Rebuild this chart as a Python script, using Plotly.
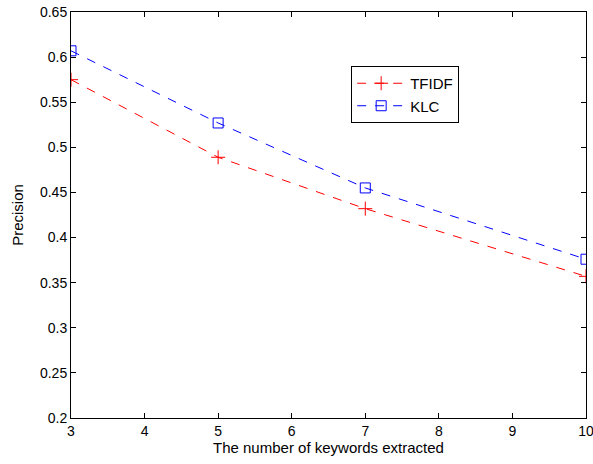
import plotly.graph_objects as go

keywords = [3, 5, 7, 10]
tfidf = [0.575, 0.489, 0.432, 0.357]
klc = [0.607, 0.527, 0.455, 0.376]

fig = go.Figure()

fig.add_trace(go.Scatter(
    x=keywords, y=tfidf,
    mode='lines+markers',
    name='TFIDF',
    line=dict(color='red', width=1, dash='dash'),
    marker=dict(symbol='cross-thin', size=10, line=dict(color='red', width=1))
))

fig.add_trace(go.Scatter(
    x=keywords, y=klc,
    mode='lines+markers',
    name='KLC',
    line=dict(color='blue', width=1, dash='dash'),
    marker=dict(symbol='square-open', size=10, color='blue', line=dict(width=1))
))

axis_style = dict(
    showline=True, linecolor='black', linewidth=1,
    mirror='ticks', ticks='inside', ticklen=5, tickcolor='black',
    showgrid=False, zeroline=False, automargin=False,
    ticklabeloverflow='allow',
    tickfont=dict(size=14, color='black'),
)

fig.update_layout(
    width=593, height=464,
    margin=dict(l=71, r=7, t=12, b=46),
    paper_bgcolor='white', plot_bgcolor='white',
    font=dict(family='Liberation Sans, Arial, sans-serif', size=14, color='black'),
    showlegend=True,
    legend=dict(
        x=0.544, y=0.867, xanchor='left', yanchor='top',
        bordercolor='black', borderwidth=1, bgcolor='white',
        font=dict(size=15), itemwidth=48,
    ),
)
fig.update_xaxes(range=[3, 10], dtick=1,
                 title=dict(text='The number of keywords extracted', font=dict(size=15), standoff=2),
                 **axis_style)
fig.update_yaxes(range=[0.2, 0.65], dtick=0.05, tickformat='.2~f',
                 title=dict(text='Precision', font=dict(size=15), standoff=12),
                 **axis_style)

# drop the default 8px body margin so the figure fills the window
fig.write_html("out.html", config={'displayModeBar': False},
               post_script="document.body.style.margin='0';")
